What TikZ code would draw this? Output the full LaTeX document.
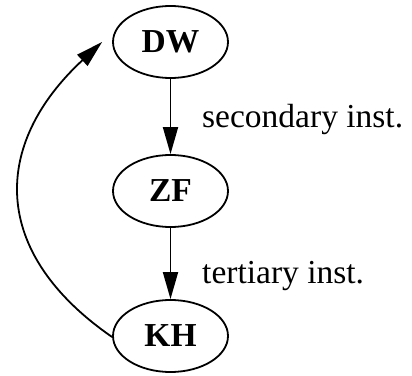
\documentclass[tikz,border=0pt]{standalone}
\usepackage{fontspec}
\setmainfont{Liberation Serif}
\usetikzlibrary{shapes.geometric,arrows.meta}
\begin{document}
\begin{tikzpicture}[x=1pt,y=1pt,
  state/.style={ellipse,draw,line width=1.8pt,minimum width=115pt,minimum height=72pt,inner sep=0pt,font=\fontsize{33.5}{36}\selectfont\bfseries},
  lbl/.style={anchor=base west,inner sep=0pt,font=\fontsize{33.5}{36}\selectfont},
  edge/.style={line width=1.8pt,-{Triangle[length=27pt,width=15pt]}}]
\useasboundingbox (0,0) rectangle (412,375);
\node[state] (DW) at (170.5,333) {DW};
\node[state] (ZF) at (170.5,184) {ZF};
\node[state] (KH) at (170.5,39) {KH};
\draw[edge] (DW.south) -- (ZF.north);
\draw[edge] (ZF.south) -- (KH.north);
\node[lbl] (l1) at (202,247) {secondary inst.};
\node[lbl] (l2) at (202,92) {tertiary inst.};
\coordinate (dwend) at ([xshift=-10pt]DW.west);
\draw[edge] ([yshift=-1pt]KH.west) .. controls +(-123,85) and +(-110,-102) .. (dwend);
\end{tikzpicture}
\end{document}
